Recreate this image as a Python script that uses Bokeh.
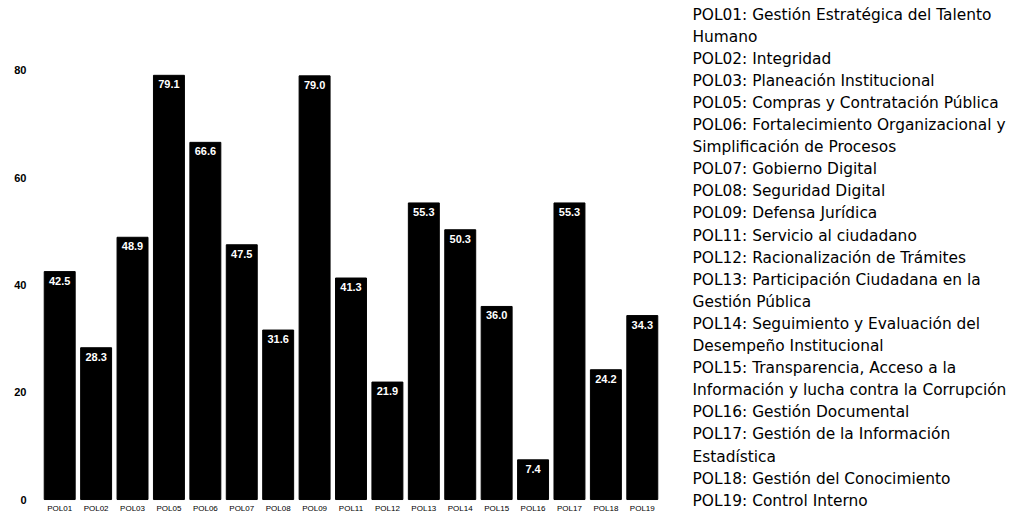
from bokeh.plotting import figure
from bokeh.layouts import row
from bokeh.models import FixedTicker, ColumnDataSource, FactorRange, Range1d
from bokeh.core.properties import value
from bokeh.embed import file_html
from bokeh.resources import INLINE

codes = ["POL01", "POL02", "POL03", "POL05", "POL06", "POL07", "POL08", "POL09",
         "POL11", "POL12", "POL13", "POL14", "POL15", "POL16", "POL17", "POL18", "POL19"]
scores = [42.5, 28.3, 48.9, 79.1, 66.6, 47.5, 31.6, 79.0,
          41.3, 21.9, 55.3, 50.3, 36.0, 7.4, 55.3, 24.2, 34.3]
y_ticks = [0, 20, 40, 60, 80]
legend_entries = [
    ["POL01: Gestión Estratégica del Talento", "Humano"],
    ["POL02: Integridad"],
    ["POL03: Planeación Institucional"],
    ["POL05: Compras y Contratación Pública"],
    ["POL06: Fortalecimiento Organizacional y", "Simplificación de Procesos"],
    ["POL07: Gobierno Digital"],
    ["POL08: Seguridad Digital"],
    ["POL09: Defensa Jurídica"],
    ["POL11: Servicio al ciudadano"],
    ["POL12: Racionalización de Trámites"],
    ["POL13: Participación Ciudadana en la", "Gestión Pública"],
    ["POL14: Seguimiento y Evaluación del", "Desempeño Institucional"],
    ["POL15: Transparencia, Acceso a la", "Información y lucha contra la Corrupción"],
    ["POL16: Gestión Documental"],
    ["POL17: Gestión de la Información", "Estadística"],
    ["POL18: Gestión del Conocimiento"],
    ["POL19: Control Interno"],
]

FONT = "Liberation Sans"
H = 515

src = ColumnDataSource(dict(x=codes, top=scores, lab=[f"{v:.1f}" for v in scores],
                            base=[0] * len(codes)))

p = figure(x_range=FactorRange(*codes, range_padding=0), y_range=Range1d(-2.98, 93.05),
           width=660, height=H, output_backend="svg", toolbar_location=None,
           min_border_left=41, min_border_top=0, min_border_right=0, min_border_bottom=0)
p.vbar(x="x", top="top", width=0.85, source=src, fill_color="black", line_color="black")
p.text(x="x", y="top", text="lab", source=src, text_color="white", text_align="center",
       text_baseline="top", y_offset=5, text_font=value(FONT), text_font_size="11px",
       text_font_style="bold")
p.text(x="x", y="base", text="x", source=src, text_color="black", text_align="center",
       text_baseline="top", y_offset=4, text_font=value(FONT), text_font_size="8px")
p.outline_line_color = None
p.xgrid.grid_line_color = None
p.ygrid.grid_line_color = None
p.xaxis.visible = False
p.yaxis.ticker = FixedTicker(ticks=y_ticks)
p.yaxis.axis_line_color = None
p.yaxis.major_tick_line_color = None
p.yaxis.minor_tick_line_color = None
p.yaxis.major_label_standoff = 9
p.yaxis.major_label_text_font = FONT
p.yaxis.major_label_text_font_size = "11px"
p.yaxis.major_label_text_font_style = "bold"
p.yaxis.major_label_text_color = "black"

# legend panel
lx, ly, lt = [], [], []
y = 14
for entry in legend_entries:
    for line in entry:
        lx.append(32)
        ly.append(y)
        lt.append(line)
        y += 22.1

q = figure(x_range=Range1d(0, 352), y_range=Range1d(H, 0), width=352, height=H,
           output_backend="svg", toolbar_location=None, min_border=0)
q.text(x=lx, y=ly, text=lt, text_font=value("DejaVu Sans"), text_font_size="15.4px",
       text_baseline="middle", text_color="black")
q.axis.visible = False
q.grid.visible = False
q.outline_line_color = None

layout = row(p, q, spacing=0)
open("out.html", "w").write(file_html(layout, INLINE))
